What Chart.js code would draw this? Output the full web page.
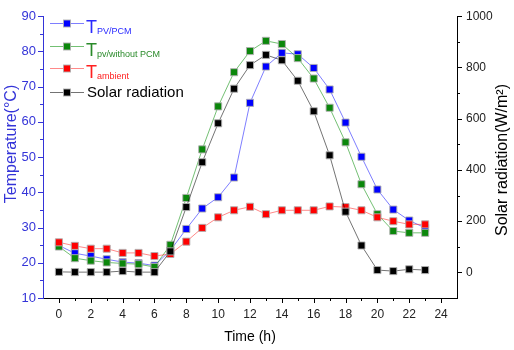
<!DOCTYPE html>
<html>
<head>
<meta charset="utf-8">
<script src="https://cdn.jsdelivr.net/npm/chart.js@4.4.0/dist/chart.umd.min.js"></script>
<style>
  html, body { margin: 0; padding: 0; background: #fff; }
</style>
</head>
<body>
<canvas id="myChart" width="514" height="350"></canvas>
<script>
const hours = [0, 1, 2, 3, 4, 5, 6, 7, 8, 9, 10, 11, 12, 13, 14, 15, 16, 17, 18, 19, 20, 21, 22, 23];
const tPvPcm = [24.9, 22.7, 21.9, 21.0, 20.2, 19.9, 19.2, 23.5, 29.6, 35.4, 38.6, 44.2,
                65.4, 75.7, 79.6, 79.2, 75.3, 69.2, 59.8, 50.1, 40.8, 35.1, 32.0, 29.9];
const tPvNoPcm = [24.6, 21.3, 20.6, 20.1, 19.8, 19.6, 18.8, 25.1, 38.4, 52.2, 64.4, 74.1,
                  80.1, 83.0, 82.1, 78.1, 72.3, 64.0, 54.2, 42.3, 33.8, 29.0, 28.5, 28.5];
const tAmbient = [25.8, 24.8, 24.0, 24.0, 22.8, 22.8, 21.9, 22.5, 26.0, 29.9, 32.9, 34.9,
                  35.9, 33.8, 34.9, 34.9, 34.9, 36.0, 35.8, 34.9, 32.9, 31.8, 30.9, 30.9];
const solarRad = [2, 1, 1, 1, 5, 1, 1, 82, 255, 430, 582, 717,
                  809, 849, 828, 748, 629, 457, 237, 105, 9, 5, 12, 9];

const xTicks = [0, 2, 4, 6, 8, 10, 12, 14, 16, 18, 20, 22, 24];
const tempTicks = [10, 20, 30, 40, 50, 60, 70, 80, 90];
const radTicks = [0, 200, 400, 600, 800, 1000];

const FONT = '"Liberation Sans", Arial, sans-serif';
const AXIS_BLUE = '#3434d8';

const pts = arr => hours.map((h, i) => ({ x: h, y: arr[i] }));

const series = (label, arr, fill, line, axis, order) => ({
  label: label,
  data: pts(arr),
  yAxisID: axis,
  order: order,
  borderColor: line,
  borderWidth: 1,
  pointStyle: 'rect',
  pointRadius: 5,
  pointBackgroundColor: fill,
  pointBorderColor: 'rgba(175,175,175,0.9)',
  pointBorderWidth: 1,
  tension: 0
});

// midpoints between major ticks -> minor ticks
const minors = arr => arr.slice(1).map((v, i) => (v + arr[i]) / 2);

const tickMarks = {
  id: 'tickMarks',
  afterDraw(chart) {
    const { ctx, chartArea: a, scales } = chart;
    ctx.save();
    ctx.lineWidth = 1;

    ctx.strokeStyle = '#000';
    ctx.beginPath();
    xTicks.forEach(v => {
      const p = Math.round(scales.x.getPixelForValue(v)) + 0.5;
      ctx.moveTo(p, a.bottom); ctx.lineTo(p, a.bottom + 5);
    });
    minors(xTicks).forEach(v => {
      const p = Math.round(scales.x.getPixelForValue(v)) + 0.5;
      ctx.moveTo(p, a.bottom); ctx.lineTo(p, a.bottom + 3);
    });
    radTicks.forEach(v => {
      const p = Math.round(scales.y1.getPixelForValue(v)) + 0.5;
      ctx.moveTo(a.right, p); ctx.lineTo(a.right + 5, p);
    });
    minors(radTicks).forEach(v => {
      const p = Math.round(scales.y1.getPixelForValue(v)) + 0.5;
      ctx.moveTo(a.right, p); ctx.lineTo(a.right + 3, p);
    });
    ctx.stroke();

    ctx.strokeStyle = AXIS_BLUE;
    ctx.beginPath();
    tempTicks.forEach(v => {
      const p = Math.round(scales.y.getPixelForValue(v)) + 0.5;
      ctx.moveTo(a.left, p); ctx.lineTo(a.left - 5, p);
    });
    minors(tempTicks).forEach(v => {
      const p = Math.round(scales.y.getPixelForValue(v)) + 0.5;
      ctx.moveTo(a.left, p); ctx.lineTo(a.left - 3, p);
    });
    ctx.stroke();

    // vertical axis titles
    ctx.textAlign = 'center';
    ctx.textBaseline = 'middle';
    ctx.fillStyle = AXIS_BLUE;
    ctx.font = '16px ' + FONT;
    ctx.save();
    ctx.translate(12, 144);
    ctx.rotate(-Math.PI / 2);
    ctx.fillText('Temperature(°C)', 0, 0);
    ctx.restore();

    ctx.fillStyle = '#000';
    ctx.save();
    ctx.translate(503, 160);
    ctx.rotate(-Math.PI / 2);
    ctx.fillText('Solar radiation(W/m²)', 0, 0);
    ctx.restore();

    ctx.restore();
  }
};

const legendRows = [
  { fill: '#0000ff', line: 'rgba(40,40,255,0.6)', text: '#2a2aff', main: 'T', sub: 'PV/PCM', y: 23 },
  { fill: '#0b870b', line: 'rgba(0,140,0,0.55)', text: '#2a8a2a', main: 'T', sub: 'pv/without PCM', y: 46 },
  { fill: '#ff0000', line: 'rgba(255,40,40,0.55)', text: '#ff2020', main: 'T', sub: 'ambient', y: 68 },
  { fill: '#000000', line: 'rgba(0,0,0,0.55)', text: '#000', main: 'Solar radiation', sub: '', y: 92 }
];

const legendBox = {
  id: 'legendBox',
  afterDraw(chart) {
    const ctx = chart.ctx;
    ctx.save();
    legendRows.forEach(r => {
      ctx.strokeStyle = r.line;
      ctx.lineWidth = 1;
      ctx.beginPath();
      ctx.moveTo(50, r.y + 0.5); ctx.lineTo(84, r.y + 0.5);
      ctx.stroke();
      ctx.fillStyle = r.fill;
      ctx.fillRect(63.5, r.y - 3, 7, 7);
      ctx.strokeStyle = 'rgba(175,175,175,0.9)';
      ctx.strokeRect(63.5, r.y - 3, 7, 7);

      ctx.fillStyle = r.text;
      ctx.textAlign = 'left';
      ctx.textBaseline = 'alphabetic';
      if (r.sub) {
        ctx.font = '18px ' + FONT;
        ctx.fillText(r.main, 86, r.y + 10);
        const w = ctx.measureText(r.main).width;
        ctx.font = '9px ' + FONT;
        ctx.fillText(r.sub, 86 + w, r.y + 11);
      } else {
        ctx.font = '15px ' + FONT;
        ctx.fillText(r.main, 87, r.y + 5);
      }
    });
    ctx.restore();
  }
};

const ctx = document.getElementById('myChart').getContext('2d');

const myChart = new Chart(ctx, {
  type: 'line',
  data: {
    datasets: [
      series('T PV/PCM', tPvPcm, '#0000ff', 'rgba(40,40,255,0.6)', 'y', 3),
      series('T pv/without PCM', tPvNoPcm, '#0b870b', 'rgba(0,140,0,0.55)', 'y', 2),
      series('T ambient', tAmbient, '#ff0000', 'rgba(255,40,40,0.55)', 'y', 1),
      series('Solar radiation', solarRad, '#000000', 'rgba(0,0,0,0.55)', 'y1', 0)
    ]
  },
  options: {
    responsive: false,
    animation: false,
    layout: { padding: { top: 8 } },
    plugins: {
      legend: { display: false },
      tooltip: { enabled: false }
    },
    scales: {
      x: {
        type: 'linear',
        min: -1,
        max: 25,
        afterFit: s => { s.height = 52; },
        afterBuildTicks: s => { s.ticks = xTicks.map(v => ({ value: v })); },
        grid: { display: false, drawTicks: false },
        border: { color: '#000', width: 1 },
        ticks: { color: '#222', font: { family: FONT, size: 12 }, padding: 9, maxRotation: 0, callback: v => String(v) },
        title: { display: true, text: 'Time (h)', color: '#000', font: { family: FONT, size: 14 }, padding: { top: 0, bottom: 4 } }
      },
      y: {
        position: 'left',
        min: 10,
        max: 90,
        afterFit: s => { s.width = 43; },
        afterBuildTicks: s => { s.ticks = tempTicks.map(v => ({ value: v })); },
        grid: { display: false, drawTicks: false },
        border: { color: AXIS_BLUE, width: 1 },
        ticks: { color: AXIS_BLUE, font: { family: FONT, size: 13 }, padding: 7, callback: v => String(v) }
      },
      y1: {
        position: 'right',
        min: -100,
        max: 1000,
        afterFit: s => { s.width = 57; },
        afterBuildTicks: s => { s.ticks = radTicks.map(v => ({ value: v })); },
        grid: { display: false, drawTicks: false },
        border: { color: '#000', width: 1 },
        ticks: { color: '#222', font: { family: FONT, size: 12 }, padding: 9, callback: v => String(v) }
      }
    }
  },
  plugins: [tickMarks, legendBox]
});
</script>
</body>
</html>
